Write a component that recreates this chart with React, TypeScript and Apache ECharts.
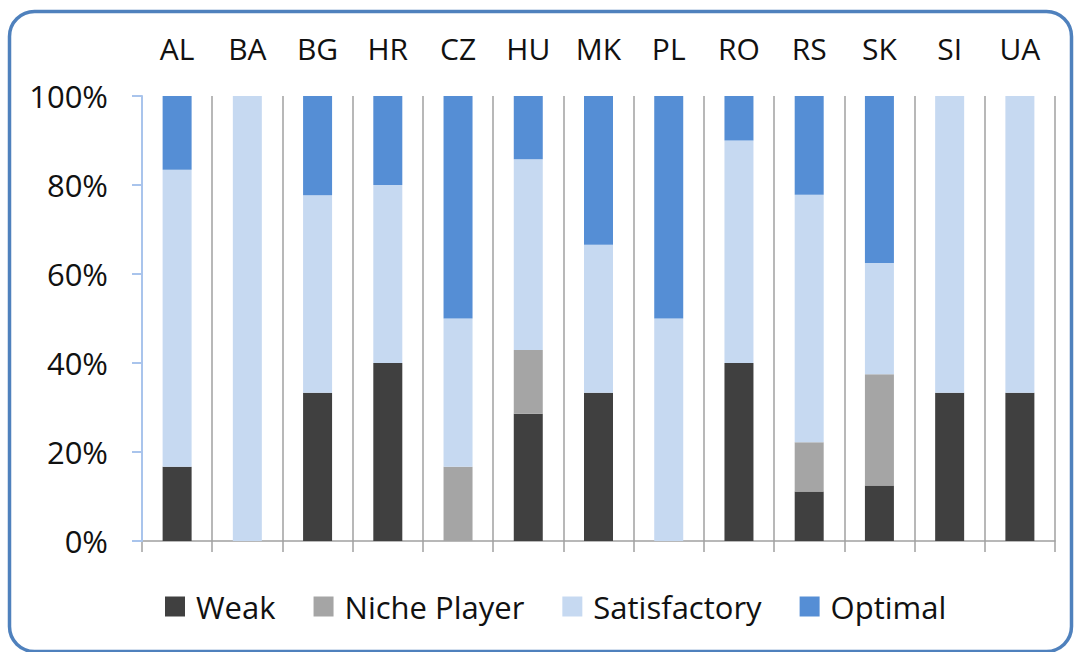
import React, { useEffect, useRef } from "react";
import * as echarts from "echarts";

const categories = ["AL", "BA", "BG", "HR", "CZ", "HU", "MK", "PL", "RO", "RS", "SK", "SI", "UA"];
const weak = [16.7, 0, 33.3, 40, 0, 28.6, 33.3, 0, 40, 11.1, 12.5, 33.3, 33.3];
const nichePlayer = [0, 0, 0, 0, 16.7, 14.3, 0, 0, 0, 11.1, 25, 0, 0];
const satisfactory = [66.7, 100, 44.4, 40, 33.3, 42.9, 33.3, 50, 50, 55.6, 25, 66.7, 66.7];
const optimal = [16.6, 0, 22.3, 20, 50, 14.2, 33.4, 50, 10, 22.2, 37.5, 0, 0];
const seriesNames = ["Weak", "Niche Player", "Satisfactory", "Optimal"];
const seriesColors = ["#404040", "#A5A5A5", "#C6D9F1", "#558ED5"];

const FONT = "'Open Sans', 'Noto Sans', sans-serif";

export default function App() {
  const ref = useRef<HTMLDivElement>(null);
  useEffect(() => {
    if (!ref.current) return;
    const chart = echarts.init(ref.current, undefined, { renderer: "svg" });
    const values = [weak, nichePlayer, satisfactory, optimal];
    chart.setOption({
      animation: false,
      backgroundColor: "#ffffff",
      textStyle: { fontFamily: FONT },
      grid: { left: 142, right: 20, top: 96, bottom: 111, containLabel: false },
      legend: {
        left: 160,
        top: 586,
        icon: "rect",
        itemWidth: 20,
        itemHeight: 20,
        itemGap: 38,
        textStyle: { fontFamily: FONT, fontSize: 31, color: "#111", padding: [0, 0, 0, 6] },
        data: seriesNames,
      },
      xAxis: [
        {
          type: "category",
          data: categories,
          position: "bottom",
          boundaryGap: true,
          axisLine: { show: true, lineStyle: { color: "#A0A0A0", width: 1.5 } },
          axisTick: { show: true, length: 11, alignWithLabel: false, lineStyle: { color: "#A0A0A0", width: 1.5 } },
          axisLabel: { show: false },
          splitLine: { show: true, lineStyle: { color: "#A0A0A0", width: 1.5 } },
        },
        {
          type: "category",
          data: categories,
          position: "top",
          boundaryGap: true,
          axisLine: { show: false },
          axisTick: { show: false },
          splitLine: { show: false },
          axisLabel: { show: true, margin: 33, fontSize: 30, color: "#111", fontFamily: FONT },
        },
      ],
      yAxis: {
        type: "value",
        min: 0,
        max: 100,
        interval: 20,
        z: 3,
        axisLine: { show: true, lineStyle: { color: "#A9C4EC", width: 2 } },
        axisTick: { show: true, length: 10, lineStyle: { color: "#A9C4EC", width: 2 } },
        splitLine: { show: false },
        axisLabel: { formatter: "{value}%", fontSize: 31, margin: 34, color: "#111", fontFamily: FONT },
      },
      series: values.map((d, i) => ({
        name: seriesNames[i],
        type: "bar",
        stack: "total",
        barWidth: 29,
        xAxisIndex: 0,
        itemStyle: { color: seriesColors[i] },
        data: d,
      })),
      graphic: [
        {
          type: "rect",
          shape: { x: 9.5, y: 11.5, width: 1062, height: 640, r: 25 },
          style: { fill: "none", stroke: "#4F81BD", lineWidth: 3.5 },
          silent: true,
          z: 10,
        },
      ],
    });
    return () => chart.dispose();
  }, []);
  return (
    <div
      ref={ref}
      style={{ position: "fixed", left: 0, top: 0, width: 1075, height: 652 }}
    />
  );
}
